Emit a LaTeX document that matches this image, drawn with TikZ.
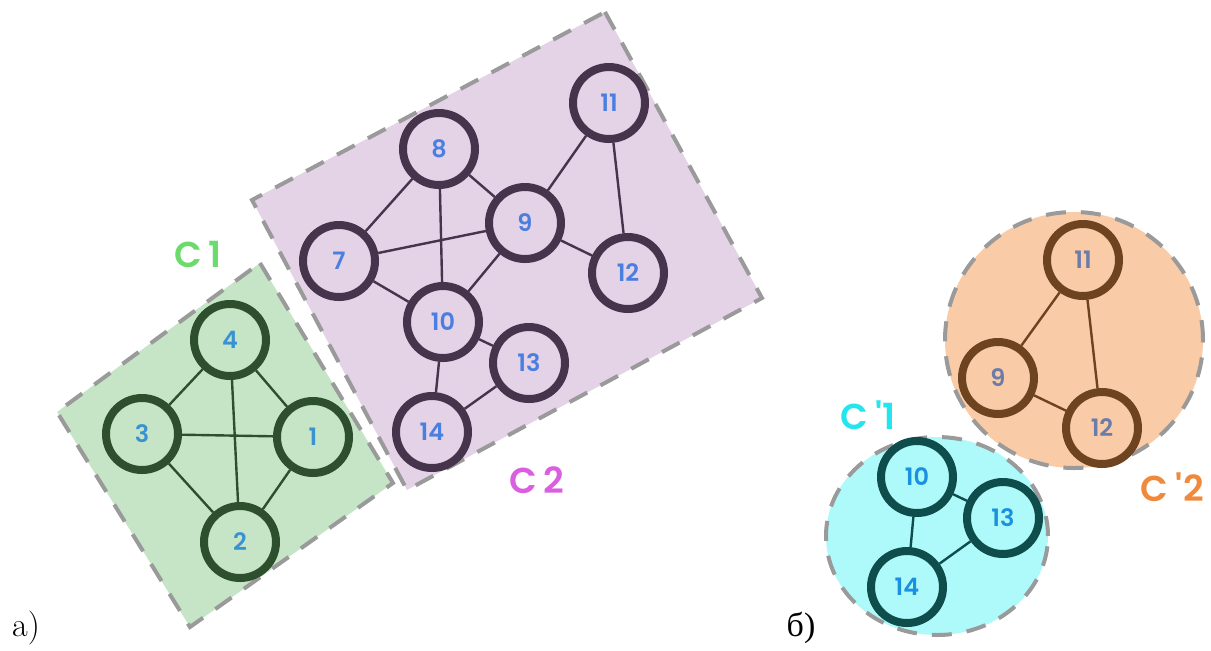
\documentclass[tikz,border=0pt]{standalone}
\usepackage{fontspec}
\usepackage{xcolor}
\usepackage{tikz}
\newfontfamily\popfont{Poppins Medium}
\newfontfamily\popsemi{Poppins SemiBold}
\newfontfamily\cyrfont{Liberation Serif}

\definecolor{greenfill}{HTML}{C6E5C6}
\definecolor{greenline}{HTML}{2E4F2E}
\definecolor{greentext}{HTML}{3A92D2}
\definecolor{purplefill}{HTML}{E4D2E7}
\definecolor{purpleline}{HTML}{45344C}
\definecolor{purpletext}{HTML}{4A7FE0}
\definecolor{orangefill}{HTML}{F9CBA6}
\definecolor{orangeline}{HTML}{6E4320}
\definecolor{orangetext}{HTML}{6B7BAA}
\definecolor{cyanfill}{HTML}{AEFAFA}
\definecolor{cyanline}{HTML}{0F4D4D}
\definecolor{cyantext}{HTML}{1A90E0}
\definecolor{dashgray}{HTML}{9A9A9A}
\definecolor{lblgreen}{HTML}{6BDB6B}
\definecolor{lblpurple}{HTML}{DA5FE0}
\definecolor{lblcyan}{HTML}{22E5EE}
\definecolor{lblorange}{HTML}{EF8A3C}

\begin{document}
\begin{tikzpicture}[x=0.5pt, y=-0.5pt]
    \tikzstyle{region}=[draw=dashgray, line width=2pt, dash pattern=on 10pt off 7.5pt]
    \tikzstyle{vertex}=[circle, draw, line width=4pt, minimum size=36pt, inner sep=0pt, font=\popsemi\fontsize{12}{12}\selectfont]
    \tikzstyle{edge}=[line width=1.2pt]
    \tikzstyle{cluster}=[font=\popsemi\fontsize{18}{18}\selectfont]
    \tikzstyle{part}=[font=\fontsize{17}{17}\selectfont]

    \useasboundingbox (0,0) rectangle (1211,650);

    % Cluster C1
    \draw[region, fill=greenfill] (260,263) -- (393,483) -- (190,627) -- (57,412) -- cycle;
    \node[cluster, text=lblgreen] (C1) at (198,254) {C\hspace{3pt}1};
    \node[vertex, draw=greenline, text=greentext] (a1) at (313,437) {1};
    \node[vertex, draw=greenline, text=greentext] (a2) at (240,542) {2};
    \node[vertex, draw=greenline, text=greentext] (a3) at (142,434) {3};
    \node[vertex, draw=greenline, text=greentext] (a4) at (230,340) {4};

    % Cluster C2
    \draw[region, fill=purplefill] (605,12) -- (762,298) -- (407,490) -- (252,200) -- cycle;
    \node[cluster, text=lblpurple] (C2) at (537,480) {C\hspace{3pt}2};
    \node[vertex, draw=purpleline, text=purpletext] (a7) at (339,261) {7};
    \node[vertex, draw=purpleline, text=purpletext] (a8) at (439,149) {8};
    \node[vertex, draw=purpleline, text=purpletext] (a9) at (525,223) {9};
    \node[vertex, draw=purpleline, text=purpletext] (a10) at (443,322) {10};
    \node[vertex, draw=purpleline, text=purpletext] (a11) at (609,103) {11};
    \node[vertex, draw=purpleline, text=purpletext] (a12) at (628,273) {12};
    \node[vertex, draw=purpleline, text=purpletext] (a13) at (529,363) {13};
    \node[vertex, draw=purpleline, text=purpletext] (a14) at (432,432) {14};

    % Cluster C'2
    \draw[region, fill=orangefill] (1074,340) ellipse [x radius=64.5pt, y radius=64pt];
    \node[cluster, text=lblorange] (D2) at (1172,487) {C\hspace{4pt}'2};
    \node[vertex, draw=orangeline, text=orangetext] (b9) at (998,378) {9};
    \node[vertex, draw=orangeline, text=orangetext] (b11) at (1083,260) {11};
    \node[vertex, draw=orangeline, text=orangetext] (b12) at (1102,428) {12};

    % Cluster C'1
    \draw[region, fill=cyanfill] (937,536) ellipse [x radius=55.5pt, y radius=49.5pt];
    \node[cluster, text=lblcyan] (D1) at (868,415) {C\hspace{4pt}'1};
    \node[vertex, draw=cyanline, text=cyantext] (b10) at (917,477) {10};
    \node[vertex, draw=cyanline, text=cyantext] (b13) at (1003,518) {13};
    \node[vertex, draw=cyanline, text=cyantext] (b14) at (907,587) {14};

    % Connections
    \foreach \i/\j in {a4/a3, a4/a1, a4/a2, a3/a1, a3/a2, a1/a2}
        \draw[edge, greenline] (\i) -- (\j);
    \foreach \i/\j in {a8/a7, a8/a9, a8/a10, a7/a9, a7/a10, a9/a10, a9/a11, a9/a12, a11/a12, a10/a13, a10/a14, a13/a14}
        \draw[edge, purpleline] (\i) -- (\j);
    \foreach \i/\j in {b11/b9, b11/b12, b9/b12}
        \draw[edge, orangeline] (\i) -- (\j);
    \foreach \i/\j in {b10/b13, b10/b14, b13/b14}
        \draw[edge, cyanline] (\i) -- (\j);

    % Sub-figure labels
    \node[part] (pa) at (26,628) {a)};
    \node[part] (pb) at (801,628) {\cyrfont б)};
\end{tikzpicture}
\end{document}
